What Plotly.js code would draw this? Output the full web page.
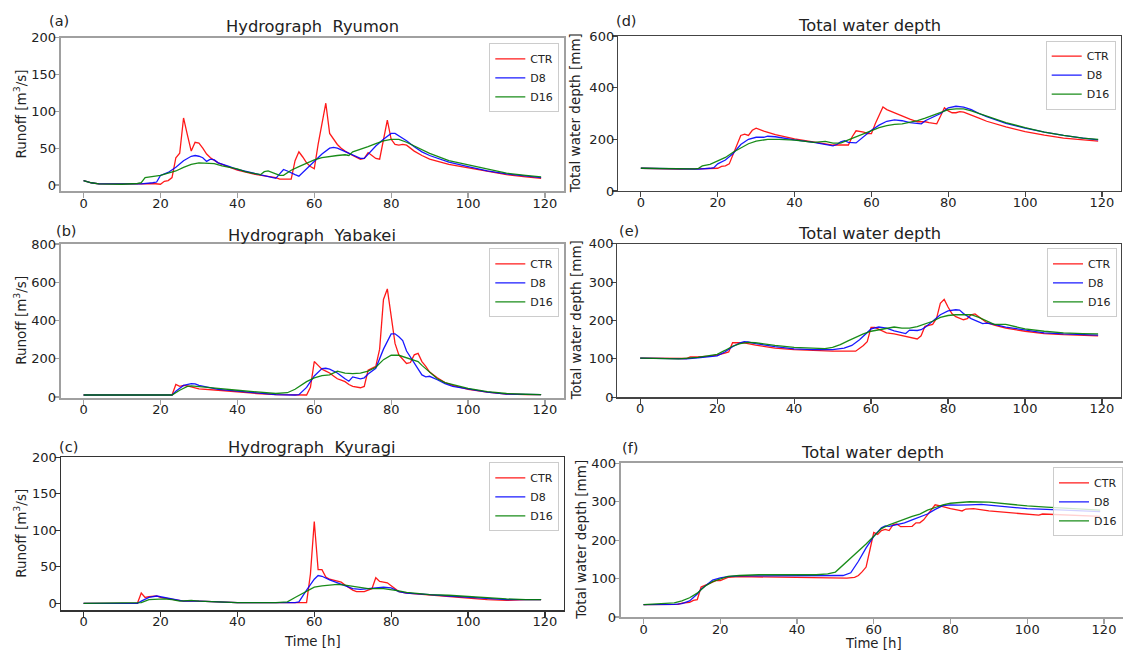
<!DOCTYPE html>
<html><head><meta charset="utf-8">
<script src="https://cdn.plot.ly/plotly-3.0.1.min.js"></script>
<style>html,body{margin:0;padding:0;background:#fff}#chart{width:1123px;height:654px}</style>
</head><body><div id="chart"></div>
<script>
// ---------- DATA (time [h], value) ----------
const timeTicks = [0, 20, 40, 60, 80, 100, 120];
const seriesNames = ['CTR', 'D8', 'D16'];

// (a) Hydrograph Ryumon, runoff [m3/s]
const a_CTR = [[0,6],[2,3],[4,1.5],[10,1],[16,1.5],[18,2],[20,1],[21,5],[22,6],[23,10],[24,37],[25,43],[26,91],[27,68],[28,46],[29,58],[30,57],[31,50],[32,42],[33,37],[34,33],[35,30],[36,28],[38,24],[40,20],[45,14],[50,10],[51,8],[54,8],[55,33],[56,45],[57,38],[58,30],[59,25],[60,22],[61,55],[62,85],[63,111],[64,70],[65,62],[66,55],[67,50],[68,46],[70,40],[72,35],[73,36],[74,44],[75,40],[76,36],[77,35],[78,60],[79,88],[80,62],[81,55],[82,54],[83,55],[84,54],[85,50],[86,46],[88,40],[90,35],[95,28],[100,23],[105,18],[110,14],[115,11],[119,9]];
const a_D8 = [[0,6],[2,3],[4,1.5],[10,1],[15,1.5],[18,3],[19,4],[20,13],[22,17],[24,24],[26,33],[28,39],[29,40],[30,39],[31,37],[32,32],[33,35],[34,34],[35,30],[38,25],[40,21],[45,15],[50,9],[51,15],[52,21],[53,19],[54,16],[55,14],[56,12],[58,22],[60,32],[62,42],[64,50],[65,51],[66,50],[68,45],[70,40],[72,36],[73,36],[74,42],[75,48],[76,53],[78,62],[80,70],[81,70],[82,67],[84,60],[86,52],[88,45],[90,40],[95,31],[100,25],[105,19],[110,15],[115,12],[119,10]];
const a_D16 = [[0,6],[2,3],[4,1.5],[10,1],[14,2],[15,3],[16,10],[18,11],[20,13],[22,16],[24,19],[26,24],[28,28],[30,30],[32,30],[34,29],[36,26],[37,25],[38,25],[40,22],[42,18],[45,15],[46,14],[47,18],[48,19],[50,15],[51,13],[52,13],[54,20],[56,25],[58,30],[60,34],[62,37],[64,39],[66,40],[68,41],[69,40],[70,45],[72,48],[74,52],[76,56],[78,60],[80,62],[82,62],[84,58],[86,53],[88,48],[90,43],[95,33],[100,27],[105,21],[110,16],[115,13],[119,11]];

// (b) Hydrograph Yabakei, runoff [m3/s]
const b_CTR = [[0,10],[23,10],[24,65],[25,55],[26,60],[27,58],[28,52],[30,42],[35,35],[40,25],[45,18],[50,12],[55,10],[58,10],[59,50],[60,185],[61,165],[62,145],[63,135],[64,125],[65,110],[66,95],[67,88],[68,80],[69,65],[70,55],[72,48],[73,55],[74,140],[75,150],[76,160],[77,250],[78,510],[79,565],[80,420],[81,280],[82,220],[83,195],[84,175],[85,180],[86,220],[87,228],[88,185],[89,160],[90,130],[92,100],[94,75],[96,60],[100,40],[105,25],[110,15],[115,12],[119,12]];
const b_D8 = [[0,10],[23,10],[24,30],[26,60],[28,70],[29,68],[30,60],[35,40],[40,30],[45,20],[50,12],[55,10],[56,12],[58,50],[60,110],[62,148],[63,150],[64,145],[66,125],[68,95],[69,82],[70,105],[71,100],[72,95],[73,100],[74,120],[76,150],[78,250],[80,330],[81,330],[82,315],[83,295],[84,240],[86,175],[88,115],[89,105],[90,108],[92,90],[94,70],[96,55],[100,40],[105,25],[110,15],[115,12],[119,12]];
const b_D16 = [[0,10],[23,10],[25,35],[27,55],[28,58],[30,55],[35,45],[40,35],[45,25],[50,18],[53,22],[55,40],[58,80],[60,100],[62,112],[64,115],[66,135],[68,125],[70,122],[72,125],[74,135],[76,155],[78,195],[80,218],[82,218],[84,205],[86,190],[87,185],[88,165],[90,130],[92,95],[94,75],[96,65],[100,45],[105,28],[110,18],[115,14],[119,12]];

// (c) Hydrograph Kyuragi, runoff [m3/s]
const c_CTR = [[0,0],[14,0],[15,14],[16,8],[17,9],[18,10],[19,10],[20,8],[21,7],[22,6],[24,4],[26,3],[30,3],[35,2],[40,1],[58,1],[59,40],[60,112],[61,46],[62,46],[63,36],[64,33],[66,30],[67,29],[68,25],[70,18],[71,16],[73,16],[74,18],[75,20],[76,35],[77,30],[78,29],[79,28],[80,24],[82,16],[84,14],[86,13],[90,11],[95,9],[100,7],[105,5],[110,4],[115,5],[119,5]];
const c_D8 = [[0,0],[14,0],[15,3],[17,8],[19,10],[20,9],[22,7],[24,5],[26,3],[30,3],[35,2],[40,1],[55,1],[56,2],[58,18],[60,33],[61,38],[62,37],[64,32],[66,28],[68,23],[70,20],[72,19],[74,20],[76,21],[78,22],[80,21],[82,16],[84,14],[86,13],[90,12],[95,10],[100,8],[105,6],[110,5],[119,5]];
const c_D16 = [[0,0],[14,0],[15,1],[17,5],[19,6],[21,6],[23,5],[25,3],[28,4],[30,3],[35,2],[40,1],[50,1],[53,2],[55,8],[58,17],[60,22],[62,24],[64,25],[66,26],[68,25],[70,23],[72,21],[74,20],[78,20],[80,19],[82,17],[84,15],[86,14],[90,12],[95,11],[100,9],[105,7],[110,6],[115,5],[119,5]];

// (d) Total water depth [mm]
const d_CTR = [[0,88],[5,86],[10,85],[15,86],[18,87],[20,88],[21,95],[22,97],[23,105],[24,140],[25,175],[26,215],[27,220],[28,215],[29,235],[30,243],[32,232],[35,218],[40,202],[45,190],[50,178],[54,178],[55,210],[56,233],[58,228],[59,222],[60,222],[61,260],[62,295],[63,325],[64,315],[66,302],[68,288],[70,278],[72,268],[74,268],[75,265],[77,260],[78,290],[79,322],[80,310],[81,303],[82,303],[83,307],[84,305],[86,295],[88,282],[90,270],[95,248],[100,230],[105,216],[110,205],[115,198],[119,193]];
const d_D8 = [[0,88],[10,85],[15,85],[18,88],[19,90],[20,105],[22,120],[24,145],[26,180],[28,200],[30,208],[32,208],[33,212],[35,210],[38,202],[40,198],[45,188],[50,175],[51,180],[52,190],[53,195],[54,188],[56,186],[58,210],[60,235],[62,255],[64,270],[66,275],[68,272],[70,265],[72,262],[73,260],[74,272],[76,285],[78,300],[80,322],[82,328],[84,325],[86,315],[88,300],[90,288],[95,262],[100,243],[105,228],[110,215],[115,205],[119,198]];
const d_D16 = [[0,88],[10,85],[14,86],[15,88],[16,97],[18,103],[20,115],[22,130],[24,150],[26,168],[28,183],[30,193],[33,200],[36,200],[38,198],[40,197],[45,188],[47,190],[48,192],[50,185],[52,185],[54,198],[56,210],[58,220],[60,235],[62,245],[64,253],[66,258],[68,260],[70,265],[72,272],[74,282],[76,292],[78,303],[80,315],[82,318],[84,318],[86,310],[88,300],[90,290],[95,265],[100,245],[105,228],[110,215],[115,205],[119,200]];

// (e) Total water depth [mm]
const e_CTR = [[0,102],[5,101],[10,100],[12,101],[13,105],[15,105],[18,107],[20,110],[22,115],[23,118],[24,142],[27,142],[28,140],[30,136],[35,128],[40,124],[45,122],[50,120],[56,120],[58,135],[59,145],[60,182],[61,182],[62,178],[64,168],[66,165],[68,160],[70,156],[72,152],[73,160],[74,185],[76,190],[77,205],[78,245],[79,255],[80,235],[81,218],[82,210],[84,202],[85,205],[86,215],[87,217],[88,210],[90,195],[92,188],[95,180],[100,172],[105,166],[110,163],[115,161],[119,160]];
const e_D8 = [[0,102],[10,100],[12,100],[15,103],[18,105],[20,108],[22,118],[24,132],[26,142],[27,145],[28,144],[30,140],[35,132],[40,126],[45,124],[50,124],[53,128],[55,135],[57,150],[59,168],[60,178],[62,183],[64,180],[66,173],[68,167],[69,166],[70,175],[72,174],[73,176],[74,182],[76,198],[78,215],[80,225],[82,228],[83,227],[84,218],[86,205],[88,195],[89,192],[90,193],[92,190],[95,183],[100,175],[105,168],[110,165],[115,163],[119,162]];
const e_D16 = [[0,102],[10,100],[15,104],[18,108],[20,112],[22,122],[24,133],[26,140],[28,143],[30,142],[35,135],[40,130],[45,127],[48,127],[50,130],[52,137],[54,147],[56,157],[58,165],[60,172],[62,176],[64,178],[66,183],[68,180],[70,180],[72,184],[74,190],[76,198],[78,208],[80,213],[82,215],[86,215],[88,208],[90,198],[92,190],[95,190],[97,185],[100,178],[105,172],[110,168],[115,166],[119,165]];

// (f) Total water depth [mm]
const f_CTR = [[0,32],[8,32],[9,33],[10,36],[12,38],[13,43],[14,45],[15,78],[16,82],[18,92],[19,95],[20,95],[21,100],[22,103],[25,105],[30,104],[35,103],[40,102],[50,101],[53,101],[55,103],[56,108],[57,118],[58,130],[59,175],[60,220],[61,215],[62,225],[63,228],[64,225],[65,240],[66,242],[67,235],[70,236],[71,245],[72,245],[73,253],[74,265],[75,278],[76,292],[77,290],[78,287],[80,282],[82,278],[83,276],[84,281],[86,282],[90,276],[95,272],[100,268],[103,265],[104,268],[110,266],[115,263],[119,262]];
const f_D8 = [[0,32],[5,32],[8,33],[10,35],[12,42],[14,60],[15,72],[16,80],[18,96],[20,102],[22,105],[25,107],[50,107],[52,108],[54,115],[56,145],[58,180],[60,210],[62,232],[63,237],[64,236],[66,240],[68,245],[70,253],[72,260],[74,268],[76,280],[78,290],[80,292],[82,291],[85,292],[88,293],[90,291],[95,287],[100,282],[105,280],[110,278],[115,276],[119,274]];
const f_D16 = [[0,32],[5,34],[8,37],[10,42],[12,50],[14,62],[15,72],[16,80],[18,92],[20,100],[22,106],[25,108],[30,110],[45,110],[48,112],[50,117],[52,135],[54,155],[56,172],[58,190],[60,210],[62,230],[64,240],[66,248],[68,255],[70,262],[72,268],[74,278],[76,285],[78,292],[80,296],[82,298],[85,300],[90,299],[95,294],[100,289],[105,286],[110,283],[115,280],[119,278]];

// ---------- STYLE / LAYOUT ----------
const W = 1123, H = 654;
const FONT = 'DejaVu Sans, sans-serif';
const TXT = '#222222';
const lineColors = ['#ff0000', '#0000ff', '#008000'];
const runoffTitle = 'Runoff [m<sup>3</sup>/s]';
const depthTitle = 'Total water depth [mm]';

const panels = [
  {letter:'(a)', title:'Hydrograph  Ryumon', data:[a_CTR,a_D8,a_D16], box:[60.7,564,37.7,191.3], yr:[-8.6,200], dt:50, ytitle:runoffTitle, ytx:20, frame:'#a0a0a0', fw:2, leg:[559.3,43.3], lab:[59,21], tt:[312,27], xt:null},
  {letter:'(b)', title:'Hydrograph  Yabakei', data:[b_CTR,b_D8,b_D16], box:[60.7,564,244,397.7], yr:[-4,800], dt:200, ytitle:runoffTitle, ytx:20, frame:'#a0a0a0', fw:2, leg:[559.3,248.3], lab:[66,231], tt:[312,235], xt:null},
  {letter:'(c)', title:'Hydrograph  Kyuragi', data:[c_CTR,c_D8,c_D16], box:[60.7,564,457.3,610.3], yr:[-9.6,200], dt:50, ytitle:runoffTitle, ytx:20, frame:'#333333', fw:1.2, leg:[559.3,462.3], lab:[68,447], tt:[312,447], xt:[312,641]},
  {letter:'(d)', title:'Total water depth', data:[d_CTR,d_D8,d_D16], box:[618,1121,36,191], yr:[0,600], dt:200, ytitle:depthTitle, ytx:575.7, frame:'#444444', fw:1.2, leg:[1115.7,40.7], lab:[626,21], tt:[869,25.7], xt:null},
  {letter:'(e)', title:'Total water depth', data:[e_CTR,e_D8,e_D16], box:[617.3,1121,243.7,397.3], yr:[0,400], dt:100, ytitle:depthTitle, ytx:575.7, frame:'#444444', fw:1.2, leg:[1117,248.3], lab:[629,231], tt:[869,233], xt:null},
  {letter:'(f)', title:'Total water depth', data:[f_CTR,f_D8,f_D16], box:[620.7,1123,463.3,617], yr:[0,400], dt:100, ytitle:depthTitle, ytx:580.7, frame:'#a0a0a0', fw:2, leg:[1123,467.3], lab:[629.5,447.5], tt:[872,452.7], xt:[873,643.5]}
];

const traces = [];
const layout = {
  width: W, height: H,
  margin: {l:0, r:0, t:0, b:0},
  paper_bgcolor: '#ffffff', plot_bgcolor: '#ffffff',
  font: {family: FONT, color: TXT, size: 13},
  showlegend: true,
  annotations: []
};

function note(text, px, py, size, angle) {
  const a = {
    text: text, xref: 'paper', yref: 'paper',
    x: px / W, y: 1 - py / H, xanchor: 'center', yanchor: 'middle',
    showarrow: false, borderpad: 0, font: {family: FONT, size: size, color: TXT}
  };
  if (angle) a.textangle = angle;
  layout.annotations.push(a);
}

panels.forEach((p, i) => {
  const n = i + 1;
  const xk = n === 1 ? 'x' : 'x' + n;
  const yk = n === 1 ? 'y' : 'y' + n;
  const legKey = n === 1 ? 'legend' : 'legend' + n;
  p.data.forEach((s, j) => {
    traces.push({
      type: 'scatter', mode: 'lines',
      x: s.map(d => d[0]), y: s.map(d => d[1]),
      name: seriesNames[j],
      xaxis: xk, yaxis: yk, legend: legKey,
      line: {color: lineColors[j], width: 1.3},
      opacity: 0.9
    });
  });
  const [l, r, t, b] = p.box;
  const axCommon = {
    showline: true, mirror: true, linecolor: p.frame, linewidth: p.fw,
    ticks: 'outside', ticklen: 5, tickcolor: p.frame, tickwidth: 1.2,
    showgrid: false, zeroline: false,
    tickfont: {family: FONT, size: 13, color: TXT}
  };
  layout['xaxis' + (n === 1 ? '' : n)] = Object.assign({}, axCommon, {
    domain: [l / W, r / W], anchor: yk,
    range: [-5.95, 124.95], tickmode: 'array', tickvals: timeTicks,
    ticklabelstandoff: -6
  });
  layout['yaxis' + (n === 1 ? '' : n)] = Object.assign({}, axCommon, {
    domain: [1 - b / H, 1 - t / H], anchor: xk,
    range: p.yr, dtick: p.dt, tick0: 0,
    ticklabelstandoff: -5
  });
  layout[legKey] = {
    x: p.leg[0] / W, y: 1 - p.leg[1] / H, xanchor: 'right', yanchor: 'top',
    xref: 'paper', yref: 'paper',
    bgcolor: 'rgba(255,255,255,0.8)', bordercolor: '#cccccc', borderwidth: 1,
    font: {family: FONT, size: 11, color: TXT},
    itemwidth: 30, tracegroupgap: 0
  };
  note(p.title, p.tt[0], p.tt[1], 16.3);
  note(p.letter, p.lab[0], p.lab[1], 14.5);
  note(p.ytitle, p.ytx, (t + b) / 2, 13.5, -90);
  if (p.xt) note('Time [h]', p.xt[0], p.xt[1], 13.3);
});

Plotly.newPlot('chart', traces, layout, {staticPlot: true, displayModeBar: false});
</script></body></html>
